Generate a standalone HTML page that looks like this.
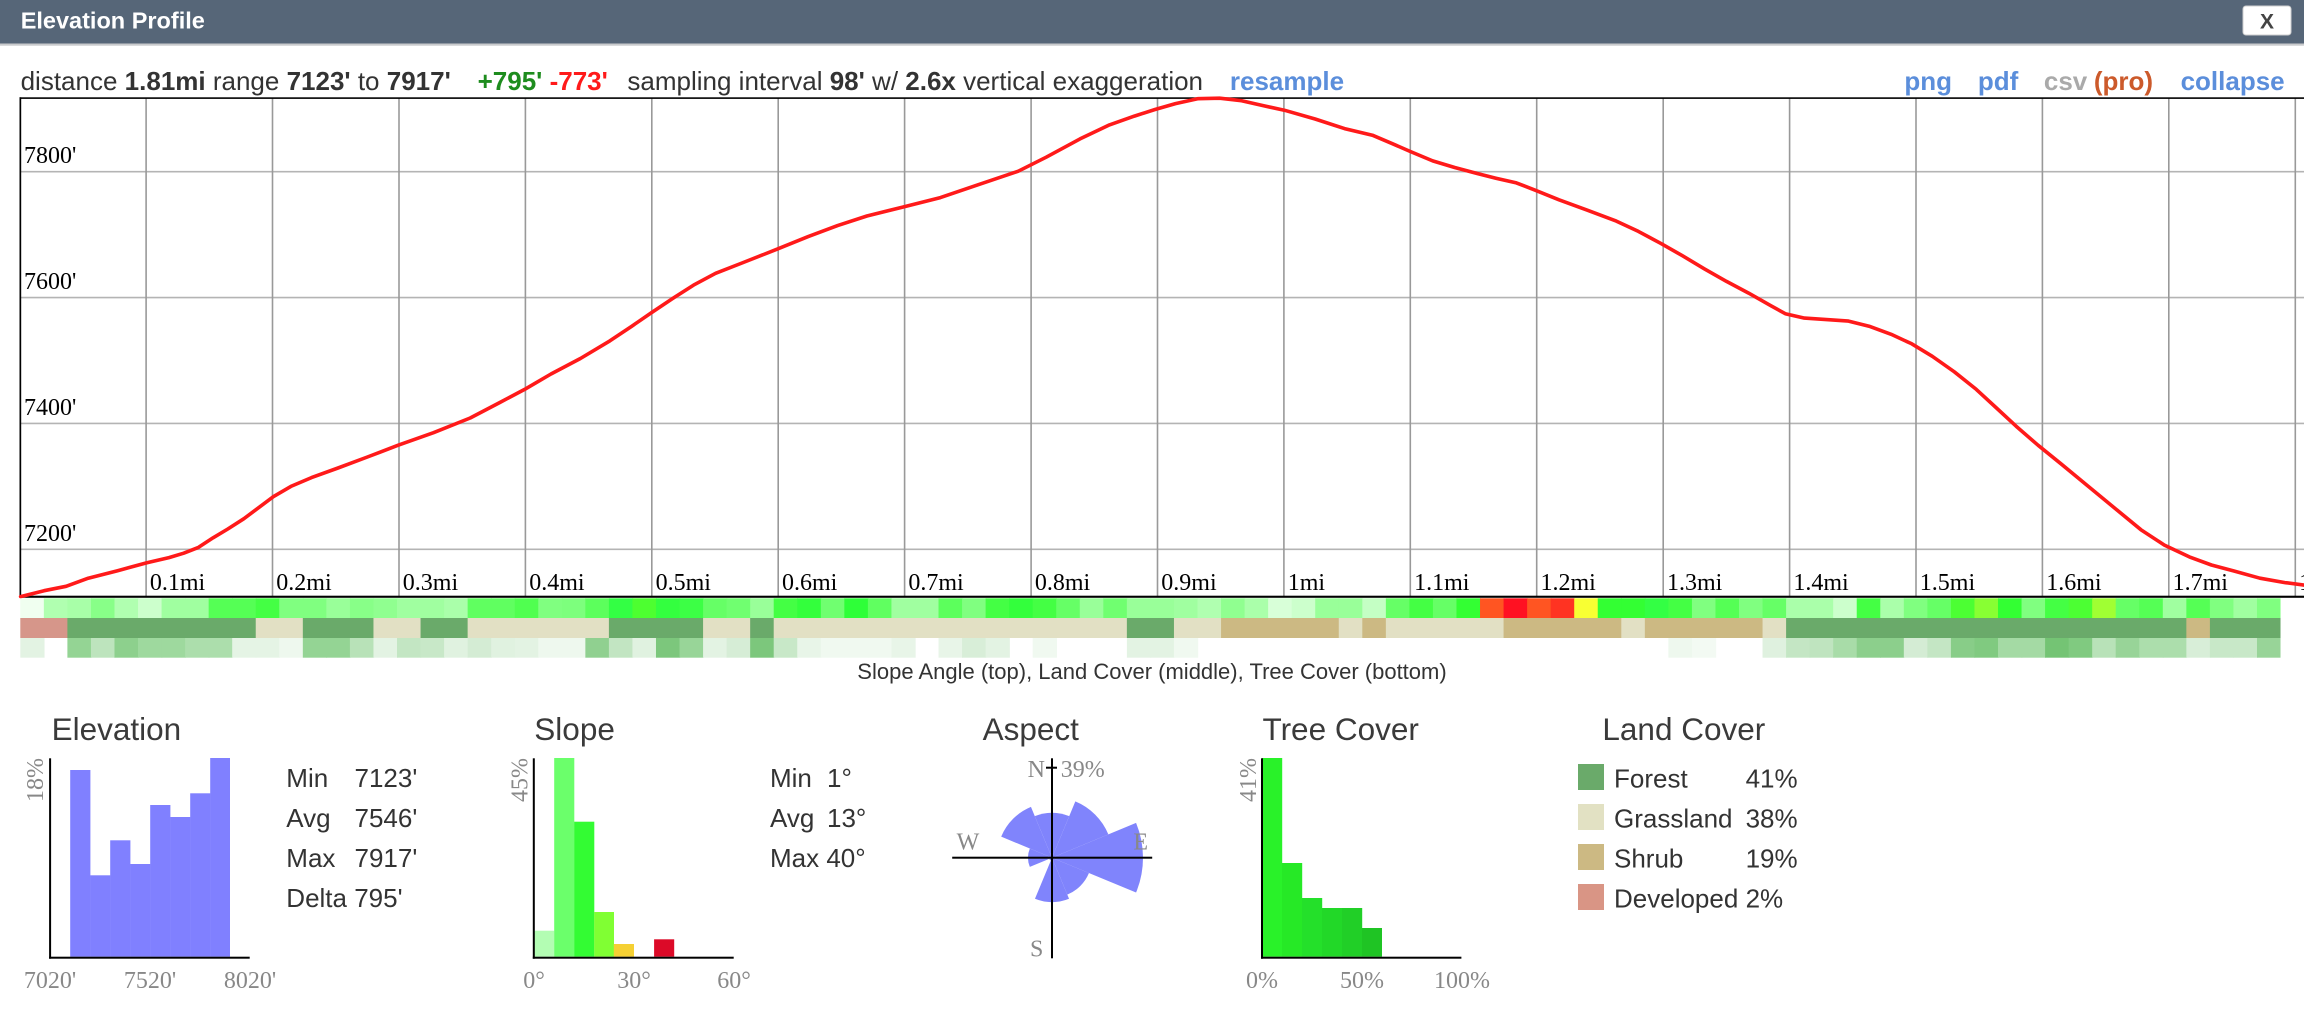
<!DOCTYPE html>
<html><head><meta charset="utf-8"><style>
html,body{margin:0;padding:0;background:#fff;width:2304px;height:1012px;overflow:hidden}
svg{display:block}
.s{font-family:"Liberation Sans",Arial,Helvetica,sans-serif}
.r{font-family:"Liberation Serif","Times New Roman",serif}
</style></head><body>
<svg width="2304" height="1012" viewBox="0 0 2304 1012" xmlns="http://www.w3.org/2000/svg">
<rect width="2304" height="1012" fill="#fff"/>
<!-- header -->
<rect x="0" y="0" width="2304" height="43.5" fill="#566678"/>
<rect x="0" y="43.5" width="2304" height="2.2" fill="#c9cbcd"/>
<text class="s" x="20.7" y="28.5" font-size="23.5" font-weight="bold" fill="#fff">Elevation Profile</text>
<rect x="2243" y="6" width="48" height="29" rx="3" fill="#fff" stroke="#cfcfcf" stroke-width="1"/>
<text class="s" x="2267" y="28.5" font-size="21" font-weight="bold" fill="#444" text-anchor="middle">X</text>

<!-- info line -->
<text class="s" x="20.6" y="90" font-size="26" fill="#333">distance <tspan font-weight="bold">1.81mi</tspan> range <tspan font-weight="bold">7123'</tspan> to <tspan font-weight="bold">7917'</tspan></text>
<text class="s" x="477.6" y="90" font-size="26" font-weight="bold"><tspan fill="#1e8c1e">+795'</tspan> <tspan fill="#ff1a1a">-773'</tspan></text>
<text class="s" x="627.4" y="90" font-size="26" fill="#333">sampling interval <tspan font-weight="bold">98'</tspan> w/ <tspan font-weight="bold">2.6x</tspan> vertical exaggeration</text>
<text class="s" x="1229.9" y="90" font-size="26" font-weight="bold" fill="#5b8edb">resample</text>
<text class="s" x="1904.4" y="90" font-size="26" font-weight="bold" fill="#5b8edb">png</text>
<text class="s" x="1977.9" y="90" font-size="26" font-weight="bold" fill="#5b8edb">pdf</text>
<text class="s" x="2043.9" y="90" font-size="26" font-weight="bold" fill="#aaaaaa">csv</text>
<text class="s" x="2093.9" y="90" font-size="26" font-weight="bold" fill="#cc5a2b">(pro)</text>
<text class="s" x="2180.6" y="90" font-size="26" font-weight="bold" fill="#5b8edb">collapse</text>

<!-- chart grid -->
<g stroke="#b4b4b4" stroke-width="1.6">
<line x1="20" y1="171.7" x2="2304" y2="171.7"/>
<line x1="20" y1="297.6" x2="2304" y2="297.6"/>
<line x1="20" y1="423.4" x2="2304" y2="423.4"/>
<line x1="20" y1="549.3" x2="2304" y2="549.3"/>
</g>
<g stroke="#999" stroke-width="1.6">
<line x1="146.1" y1="98" x2="146.1" y2="597"/>
<line x1="272.5" y1="98" x2="272.5" y2="597"/>
<line x1="399" y1="98" x2="399" y2="597"/>
<line x1="525.4" y1="98" x2="525.4" y2="597"/>
<line x1="651.8" y1="98" x2="651.8" y2="597"/>
<line x1="778.2" y1="98" x2="778.2" y2="597"/>
<line x1="904.6" y1="98" x2="904.6" y2="597"/>
<line x1="1031.1" y1="98" x2="1031.1" y2="597"/>
<line x1="1157.5" y1="98" x2="1157.5" y2="597"/>
<line x1="1283.9" y1="98" x2="1283.9" y2="597"/>
<line x1="1410.3" y1="98" x2="1410.3" y2="597"/>
<line x1="1536.7" y1="98" x2="1536.7" y2="597"/>
<line x1="1663.2" y1="98" x2="1663.2" y2="597"/>
<line x1="1789.6" y1="98" x2="1789.6" y2="597"/>
<line x1="1916" y1="98" x2="1916" y2="597"/>
<line x1="2042.4" y1="98" x2="2042.4" y2="597"/>
<line x1="2168.8" y1="98" x2="2168.8" y2="597"/>
<line x1="2295.3" y1="98" x2="2295.3" y2="597"/>
</g>
<!-- y labels -->
<g class="r" font-size="24" fill="#000">
<text x="24" y="163">7800'</text>
<text x="24" y="289">7600'</text>
<text x="24" y="415">7400'</text>
<text x="24" y="541">7200'</text>
</g>
<!-- x labels -->
<g class="r" font-size="24" fill="#000">
<text x="149.9" y="590">0.1mi</text>
<text x="276.3" y="590">0.2mi</text>
<text x="402.8" y="590">0.3mi</text>
<text x="529.2" y="590">0.4mi</text>
<text x="655.6" y="590">0.5mi</text>
<text x="782" y="590">0.6mi</text>
<text x="908.4" y="590">0.7mi</text>
<text x="1034.9" y="590">0.8mi</text>
<text x="1161.3" y="590">0.9mi</text>
<text x="1287.7" y="590">1mi</text>
<text x="1414.1" y="590">1.1mi</text>
<text x="1540.5" y="590">1.2mi</text>
<text x="1667" y="590">1.3mi</text>
<text x="1793.4" y="590">1.4mi</text>
<text x="1919.8" y="590">1.5mi</text>
<text x="2046.2" y="590">1.6mi</text>
<text x="2172.6" y="590">1.7mi</text>
<text x="2299.1" y="590">1.8mi</text>
</g>
<!-- borders -->
<rect x="19.5" y="97.3" width="2290" height="1.6" fill="#000"/>
<rect x="19.5" y="97.3" width="1.7" height="500" fill="#000"/>
<rect x="19.5" y="595.7" width="2290" height="2.1" fill="#000"/>

<!-- curve -->
<polyline fill="none" stroke="#ff1a1a" stroke-width="3.6" stroke-linejoin="round" stroke-linecap="round" points="20.6,596.6 44.1,590.7 66.1,586.3 88.2,578.2 117.6,570.7 146.9,562.8 169,557.6 183.7,553.2 198.4,547.4 213.1,537.8 227.8,529 243.9,518.7 258.6,507.7 273.3,496.7 290.9,486.4 311.5,477.6 338,468 367.4,457 398.2,445.2 433.5,432.7 470.2,418 499.6,402.6 524.6,389.4 551,374 580.4,358.5 609.8,340.9 631.8,326.2 651,313 673,298.3 693.6,285.1 715.6,273.3 742,263 777.3,249.1 808.2,236.6 837.6,225.6 866.9,216 902.2,207.2 940.4,197.6 977.2,185.1 1018.3,171.2 1046.2,157.2 1080,138.9 1109.4,124.9 1134.4,116.1 1155,109.5 1175.5,103.6 1197.6,98.7 1219.6,98.2 1241.6,100.7 1263.7,105.8 1284.3,110.2 1315.1,119 1344.5,128.6 1372.4,135.2 1391.5,143.3 1410.6,151.6 1432.7,160.9 1454.7,167.5 1476.7,173.4 1495.9,178.2 1516.4,182.9 1535.5,190.3 1559,199.8 1587,210.1 1616.3,221.1 1638.4,231.4 1660.4,243.2 1682.4,255.7 1704.5,268.9 1726.5,281.4 1748.6,293.1 1770.6,305.6 1785.3,313.7 1804.4,318.1 1826.5,319.6 1848.5,321.1 1869.1,326.2 1891.1,334.3 1911.7,343.8 1932.3,356.3 1954.3,371.8 1976.3,389.4 1995.4,407 2016,426.1 2038,445.2 2061.6,464.3 2086.5,484.9 2115.9,509.1 2140.9,529.7 2164.4,545.1 2189.4,556.9 2211.4,565 2233.5,570.9 2259.9,578.2 2284.9,582.6 2304,585.1"/>

<!-- strips -->
<g transform="translate(20.3 0) scale(23.544 1)">
<!-- slope row -->
<g>
<rect x="0" y="598.3" width="1.03" height="19.7" fill="#f0fff0"/>
<rect x="1" y="598.3" width="1.03" height="19.7" fill="#b0ffb0"/>
<rect x="2" y="598.3" width="1.03" height="19.7" fill="#a8ffa8"/>
<rect x="3" y="598.3" width="1.03" height="19.7" fill="#88ff88"/>
<rect x="4" y="598.3" width="1.03" height="19.7" fill="#b0ffb0"/>
<rect x="5" y="598.3" width="1.03" height="19.7" fill="#ccffcc"/>
<rect x="6" y="598.3" width="1.03" height="19.7" fill="#a0ffa0"/>
<rect x="7" y="598.3" width="1.03" height="19.7" fill="#a0ffa0"/>
<rect x="8" y="598.3" width="1.03" height="19.7" fill="#55ff55"/>
<rect x="9" y="598.3" width="1.03" height="19.7" fill="#55ff55"/>
<rect x="10" y="598.3" width="1.03" height="19.7" fill="#44ff44"/>
<rect x="11" y="598.3" width="1.03" height="19.7" fill="#80ff80"/>
<rect x="12" y="598.3" width="1.03" height="19.7" fill="#80ff80"/>
<rect x="13" y="598.3" width="1.03" height="19.7" fill="#99ff99"/>
<rect x="14" y="598.3" width="1.03" height="19.7" fill="#88ff88"/>
<rect x="15" y="598.3" width="1.03" height="19.7" fill="#90ff90"/>
<rect x="16" y="598.3" width="1.03" height="19.7" fill="#a0ffa0"/>
<rect x="17" y="598.3" width="1.03" height="19.7" fill="#a0ffa0"/>
<rect x="18" y="598.3" width="1.03" height="19.7" fill="#aaffaa"/>
<rect x="19" y="598.3" width="1.03" height="19.7" fill="#60ff60"/>
<rect x="20" y="598.3" width="1.03" height="19.7" fill="#60ff60"/>
<rect x="21" y="598.3" width="1.03" height="19.7" fill="#50ff50"/>
<rect x="22" y="598.3" width="1.03" height="19.7" fill="#80ff80"/>
<rect x="23" y="598.3" width="1.03" height="19.7" fill="#7dff7d"/>
<rect x="24" y="598.3" width="1.03" height="19.7" fill="#5cff5c"/>
<rect x="25" y="598.3" width="1.03" height="19.7" fill="#33ff44"/>
<rect x="26" y="598.3" width="1.03" height="19.7" fill="#4dff30"/>
<rect x="27" y="598.3" width="1.03" height="19.7" fill="#33ff3f"/>
<rect x="28" y="598.3" width="1.03" height="19.7" fill="#3cff45"/>
<rect x="29" y="598.3" width="1.03" height="19.7" fill="#66ff66"/>
<rect x="30" y="598.3" width="1.03" height="19.7" fill="#70ff70"/>
<rect x="31" y="598.3" width="1.03" height="19.7" fill="#99ff99"/>
<rect x="32" y="598.3" width="1.03" height="19.7" fill="#44ff44"/>
<rect x="33" y="598.3" width="1.03" height="19.7" fill="#33ff3c"/>
<rect x="34" y="598.3" width="1.03" height="19.7" fill="#70ff70"/>
<rect x="35" y="598.3" width="1.03" height="19.7" fill="#2eff38"/>
<rect x="36" y="598.3" width="1.03" height="19.7" fill="#60ff60"/>
<rect x="37" y="598.3" width="1.03" height="19.7" fill="#a0ffa0"/>
<rect x="38" y="598.3" width="1.03" height="19.7" fill="#a0ffa0"/>
<rect x="39" y="598.3" width="1.03" height="19.7" fill="#5cff5c"/>
<rect x="40" y="598.3" width="1.03" height="19.7" fill="#80ff80"/>
<rect x="41" y="598.3" width="1.03" height="19.7" fill="#44ff44"/>
<rect x="42" y="598.3" width="1.03" height="19.7" fill="#33ff3c"/>
<rect x="43" y="598.3" width="1.03" height="19.7" fill="#44ff44"/>
<rect x="44" y="598.3" width="1.03" height="19.7" fill="#66ff66"/>
<rect x="45" y="598.3" width="1.03" height="19.7" fill="#99ff99"/>
<rect x="46" y="598.3" width="1.03" height="19.7" fill="#70ff70"/>
<rect x="47" y="598.3" width="1.03" height="19.7" fill="#99ff99"/>
<rect x="48" y="598.3" width="1.03" height="19.7" fill="#99ff99"/>
<rect x="49" y="598.3" width="1.03" height="19.7" fill="#a0ffa0"/>
<rect x="50" y="598.3" width="1.03" height="19.7" fill="#b0ffb0"/>
<rect x="51" y="598.3" width="1.03" height="19.7" fill="#90ff90"/>
<rect x="52" y="598.3" width="1.03" height="19.7" fill="#aaffaa"/>
<rect x="53" y="598.3" width="1.03" height="19.7" fill="#d8ffd8"/>
<rect x="54" y="598.3" width="1.03" height="19.7" fill="#ccffcc"/>
<rect x="55" y="598.3" width="1.03" height="19.7" fill="#99ff99"/>
<rect x="56" y="598.3" width="1.03" height="19.7" fill="#99ff99"/>
<rect x="57" y="598.3" width="1.03" height="19.7" fill="#c4ffc4"/>
<rect x="58" y="598.3" width="1.03" height="19.7" fill="#66ff66"/>
<rect x="59" y="598.3" width="1.03" height="19.7" fill="#44ff44"/>
<rect x="60" y="598.3" width="1.03" height="19.7" fill="#66ff66"/>
<rect x="61" y="598.3" width="1.03" height="19.7" fill="#33ff33"/>
<rect x="62" y="598.3" width="1.03" height="19.7" fill="#ff5522"/>
<rect x="63" y="598.3" width="1.03" height="19.7" fill="#ff1122"/>
<rect x="64" y="598.3" width="1.03" height="19.7" fill="#ff5522"/>
<rect x="65" y="598.3" width="1.03" height="19.7" fill="#ff3322"/>
<rect x="66" y="598.3" width="1.03" height="19.7" fill="#f8ff33"/>
<rect x="67" y="598.3" width="1.03" height="19.7" fill="#33ff33"/>
<rect x="68" y="598.3" width="1.03" height="19.7" fill="#33ff33"/>
<rect x="69" y="598.3" width="1.03" height="19.7" fill="#33ff44"/>
<rect x="70" y="598.3" width="1.03" height="19.7" fill="#44ff44"/>
<rect x="71" y="598.3" width="1.03" height="19.7" fill="#80ff80"/>
<rect x="72" y="598.3" width="1.03" height="19.7" fill="#55ff55"/>
<rect x="73" y="598.3" width="1.03" height="19.7" fill="#80ff80"/>
<rect x="74" y="598.3" width="1.03" height="19.7" fill="#66ff66"/>
<rect x="75" y="598.3" width="1.03" height="19.7" fill="#aaffaa"/>
<rect x="76" y="598.3" width="1.03" height="19.7" fill="#aaffaa"/>
<rect x="77" y="598.3" width="1.03" height="19.7" fill="#ccffcc"/>
<rect x="78" y="598.3" width="1.03" height="19.7" fill="#44ff44"/>
<rect x="79" y="598.3" width="1.03" height="19.7" fill="#aaffaa"/>
<rect x="80" y="598.3" width="1.03" height="19.7" fill="#80ff80"/>
<rect x="81" y="598.3" width="1.03" height="19.7" fill="#66ff66"/>
<rect x="82" y="598.3" width="1.03" height="19.7" fill="#4cff33"/>
<rect x="83" y="598.3" width="1.03" height="19.7" fill="#88ff33"/>
<rect x="84" y="598.3" width="1.03" height="19.7" fill="#33ff33"/>
<rect x="85" y="598.3" width="1.03" height="19.7" fill="#80ff80"/>
<rect x="86" y="598.3" width="1.03" height="19.7" fill="#44ff44"/>
<rect x="87" y="598.3" width="1.03" height="19.7" fill="#4cff33"/>
<rect x="88" y="598.3" width="1.03" height="19.7" fill="#a0ff33"/>
<rect x="89" y="598.3" width="1.03" height="19.7" fill="#66ff66"/>
<rect x="90" y="598.3" width="1.03" height="19.7" fill="#55ff55"/>
<rect x="91" y="598.3" width="1.03" height="19.7" fill="#a0ffa0"/>
<rect x="92" y="598.3" width="1.03" height="19.7" fill="#55ff55"/>
<rect x="93" y="598.3" width="1.03" height="19.7" fill="#80ff80"/>
<rect x="94" y="598.3" width="1.03" height="19.7" fill="#a0ffa0"/>
<rect x="95" y="598.3" width="1" height="19.7" fill="#80ff80"/>
</g>
<!-- land cover row -->
<g>
<rect x="0" y="618" width="2.02" height="20" fill="#d6968a"/>
<rect x="2" y="618" width="8.02" height="20" fill="#6aaa6a"/>
<rect x="10" y="618" width="2.02" height="20" fill="#e2e0c4"/>
<rect x="12" y="618" width="3.02" height="20" fill="#6aaa6a"/>
<rect x="15" y="618" width="2.02" height="20" fill="#e2e0c4"/>
<rect x="17" y="618" width="2.02" height="20" fill="#6aaa6a"/>
<rect x="19" y="618" width="6.02" height="20" fill="#e2e0c4"/>
<rect x="25" y="618" width="4.02" height="20" fill="#6aaa6a"/>
<rect x="29" y="618" width="2.02" height="20" fill="#e2e0c4"/>
<rect x="31" y="618" width="1.02" height="20" fill="#6aaa6a"/>
<rect x="32" y="618" width="15.02" height="20" fill="#e2e0c4"/>
<rect x="47" y="618" width="2.02" height="20" fill="#6aaa6a"/>
<rect x="49" y="618" width="2.02" height="20" fill="#e2e0c4"/>
<rect x="51" y="618" width="5.02" height="20" fill="#ccb983"/>
<rect x="56" y="618" width="1.02" height="20" fill="#e2e0c4"/>
<rect x="57" y="618" width="1.02" height="20" fill="#ccb983"/>
<rect x="58" y="618" width="5.02" height="20" fill="#e2e0c4"/>
<rect x="63" y="618" width="5.02" height="20" fill="#ccb983"/>
<rect x="68" y="618" width="1.02" height="20" fill="#e2e0c4"/>
<rect x="69" y="618" width="5.02" height="20" fill="#ccb983"/>
<rect x="74" y="618" width="1.02" height="20" fill="#e2e0c4"/>
<rect x="75" y="618" width="17.02" height="20" fill="#6aaa6a"/>
<rect x="92" y="618" width="1.02" height="20" fill="#ccb983"/>
<rect x="93" y="618" width="3" height="20" fill="#6aaa6a"/>
</g>
<!-- tree cover row -->
<g>
<rect x="0" y="638" width="1.03" height="19.7" fill="#e3f3e3"/>
<rect x="2" y="638" width="1.03" height="19.7" fill="#94d494"/>
<rect x="3" y="638" width="1.03" height="19.7" fill="#bde4bd"/>
<rect x="4" y="638" width="1.03" height="19.7" fill="#8dd08d"/>
<rect x="5" y="638" width="1.03" height="19.7" fill="#9ed99e"/>
<rect x="6" y="638" width="1.03" height="19.7" fill="#9ed99e"/>
<rect x="7" y="638" width="1.03" height="19.7" fill="#acdeac"/>
<rect x="8" y="638" width="1.03" height="19.7" fill="#acdeac"/>
<rect x="9" y="638" width="1.03" height="19.7" fill="#e5f4e5"/>
<rect x="10" y="638" width="1.03" height="19.7" fill="#e5f4e5"/>
<rect x="11" y="638" width="1.03" height="19.7" fill="#eef8ee"/>
<rect x="12" y="638" width="1.03" height="19.7" fill="#94d494"/>
<rect x="13" y="638" width="1.03" height="19.7" fill="#94d494"/>
<rect x="14" y="638" width="1.03" height="19.7" fill="#b8e2b8"/>
<rect x="15" y="638" width="1.03" height="19.7" fill="#e3f3e3"/>
<rect x="16" y="638" width="1.03" height="19.7" fill="#c3e6c3"/>
<rect x="17" y="638" width="1.03" height="19.7" fill="#c8e8c8"/>
<rect x="18" y="638" width="1.03" height="19.7" fill="#e0f2e0"/>
<rect x="19" y="638" width="1.03" height="19.7" fill="#d4ecd4"/>
<rect x="20" y="638" width="1.03" height="19.7" fill="#e0f2e0"/>
<rect x="21" y="638" width="1.03" height="19.7" fill="#e3f3e3"/>
<rect x="22" y="638" width="1.03" height="19.7" fill="#eef8ee"/>
<rect x="23" y="638" width="1.03" height="19.7" fill="#eef8ee"/>
<rect x="24" y="638" width="1.03" height="19.7" fill="#90d090"/>
<rect x="25" y="638" width="1.03" height="19.7" fill="#c2e5c2"/>
<rect x="26" y="638" width="1.03" height="19.7" fill="#e0f2e0"/>
<rect x="27" y="638" width="1.03" height="19.7" fill="#7cc77c"/>
<rect x="28" y="638" width="1.03" height="19.7" fill="#98d598"/>
<rect x="29" y="638" width="1.03" height="19.7" fill="#e3f3e3"/>
<rect x="30" y="638" width="1.03" height="19.7" fill="#d6edd6"/>
<rect x="31" y="638" width="1.03" height="19.7" fill="#7cc77c"/>
<rect x="32" y="638" width="1.03" height="19.7" fill="#c8e8c8"/>
<rect x="33" y="638" width="1.03" height="19.7" fill="#e8f5e8"/>
<rect x="34" y="638" width="1.03" height="19.7" fill="#f0f9f0"/>
<rect x="35" y="638" width="1.03" height="19.7" fill="#f0f9f0"/>
<rect x="36" y="638" width="1.03" height="19.7" fill="#f0f9f0"/>
<rect x="37" y="638" width="1.03" height="19.7" fill="#e8f5e8"/>
<rect x="39" y="638" width="1.03" height="19.7" fill="#e8f5e8"/>
<rect x="40" y="638" width="1.03" height="19.7" fill="#d8eed8"/>
<rect x="41" y="638" width="1.03" height="19.7" fill="#e3f3e3"/>
<rect x="43" y="638" width="1.03" height="19.7" fill="#f0f9f0"/>
<rect x="47" y="638" width="1.03" height="19.7" fill="#e3f3e3"/>
<rect x="48" y="638" width="1.03" height="19.7" fill="#e3f3e3"/>
<rect x="49" y="638" width="1.03" height="19.7" fill="#f0f9f0"/>
<rect x="70" y="638" width="1.03" height="19.7" fill="#eef8ee"/>
<rect x="71" y="638" width="1.03" height="19.7" fill="#f3faf3"/>
<rect x="74" y="638" width="1.03" height="19.7" fill="#dff1df"/>
<rect x="75" y="638" width="1.03" height="19.7" fill="#c4e6c4"/>
<rect x="76" y="638" width="1.03" height="19.7" fill="#bfe4bf"/>
<rect x="77" y="638" width="1.03" height="19.7" fill="#a8dca8"/>
<rect x="78" y="638" width="1.03" height="19.7" fill="#8ccf8c"/>
<rect x="79" y="638" width="1.03" height="19.7" fill="#8ccf8c"/>
<rect x="80" y="638" width="1.03" height="19.7" fill="#d4ecd4"/>
<rect x="81" y="638" width="1.03" height="19.7" fill="#c4e6c4"/>
<rect x="82" y="638" width="1.03" height="19.7" fill="#88cd88"/>
<rect x="83" y="638" width="1.03" height="19.7" fill="#80ca80"/>
<rect x="84" y="638" width="1.03" height="19.7" fill="#a4daa4"/>
<rect x="85" y="638" width="1.03" height="19.7" fill="#a4daa4"/>
<rect x="86" y="638" width="1.03" height="19.7" fill="#74c474"/>
<rect x="87" y="638" width="1.03" height="19.7" fill="#80ca80"/>
<rect x="88" y="638" width="1.03" height="19.7" fill="#b8e2b8"/>
<rect x="89" y="638" width="1.03" height="19.7" fill="#98d498"/>
<rect x="90" y="638" width="1.03" height="19.7" fill="#acdeac"/>
<rect x="91" y="638" width="1.03" height="19.7" fill="#acdeac"/>
<rect x="92" y="638" width="1.03" height="19.7" fill="#d8eed8"/>
<rect x="93" y="638" width="1.03" height="19.7" fill="#c8e8c8"/>
<rect x="94" y="638" width="1.03" height="19.7" fill="#c8e8c8"/>
<rect x="95" y="638" width="1" height="19.7" fill="#98d498"/>
</g>
</g>

<text class="s" x="1152" y="679" font-size="22" fill="#333" text-anchor="middle">Slope Angle (top), Land Cover (middle), Tree Cover (bottom)</text>

<!-- bottom panel titles -->
<g class="s" font-size="31.5" fill="#3a3a3a">
<text x="51.6" y="740">Elevation</text>
<text x="534.3" y="740">Slope</text>
<text x="982.6" y="740">Aspect</text>
<text x="1262.5" y="740">Tree Cover</text>
<text x="1602.4" y="740">Land Cover</text>
</g>

<!-- Elevation histogram -->
<g fill="#8080ff">
<rect x="70.2" y="770" width="20.2" height="186.7"/>
<rect x="90.2" y="875.3" width="20.2" height="81.4"/>
<rect x="110.2" y="840.3" width="20.2" height="116.4"/>
<rect x="130.2" y="864" width="20.2" height="92.7"/>
<rect x="150.2" y="805" width="20.2" height="151.7"/>
<rect x="170.2" y="817" width="20.2" height="139.7"/>
<rect x="190.2" y="793.3" width="20.2" height="163.4"/>
<rect x="210.2" y="758" width="19.8" height="198.7"/>
</g>
<rect x="49.1" y="758.3" width="2" height="200.4" fill="#000"/>
<rect x="49.1" y="956.7" width="200.6" height="2" fill="#000"/>
<g class="r" font-size="24" fill="#888">
<text transform="translate(43.2 758) rotate(-90)" text-anchor="end">18%</text>
<text x="50" y="988" text-anchor="middle">7020'</text>
<text x="150" y="988" text-anchor="middle">7520'</text>
<text x="250" y="988" text-anchor="middle">8020'</text>
</g>
<g class="s" font-size="26" fill="#333">
<text x="286.3" y="787">Min</text><text x="354.5" y="787">7123'</text>
<text x="286.3" y="827">Avg</text><text x="354.5" y="827">7546'</text>
<text x="286.3" y="867">Max</text><text x="354.5" y="867">7917'</text>
<text x="286.3" y="907">Delta 795'</text>
</g>

<!-- Slope histogram -->
<rect x="534.3" y="930.7" width="20" height="26" fill="#b3fdb3"/>
<rect x="554.2" y="758" width="20.1" height="198.7" fill="#6bff6b"/>
<rect x="574.2" y="821.7" width="20.1" height="135" fill="#33fc33"/>
<rect x="594.2" y="912" width="19.8" height="44.7" fill="#80ff33"/>
<rect x="613.8" y="944" width="20.2" height="12.7" fill="#f5d033"/>
<rect x="654.1" y="939.3" width="20.1" height="17.4" fill="#dc0a28"/>
<rect x="532.8" y="758.3" width="2" height="200.4" fill="#000"/>
<rect x="532.8" y="956.7" width="200.9" height="2" fill="#000"/>
<g class="r" font-size="24" fill="#888">
<text transform="translate(527.5 758) rotate(-90)" text-anchor="end">45%</text>
<text x="534" y="988" text-anchor="middle">0°</text>
<text x="634" y="988" text-anchor="middle">30°</text>
<text x="734" y="988" text-anchor="middle">60°</text>
</g>
<g class="s" font-size="26" fill="#333">
<text x="770" y="787">Min</text><text x="827" y="787">1°</text>
<text x="770" y="827">Avg</text><text x="827" y="827">13°</text>
<text x="770" y="867">Max 40°</text>
</g>

<!-- Aspect rose -->
<g fill="#8084fc">
<path d="M1052 857.7 L1034.78 816.12 A45 45 0 0 1 1069.22 816.12 Z"/>
<path d="M1052 857.7 L1075.34 801.34 A61 61 0 0 1 1108.36 834.36 Z"/>
<path d="M1052 857.7 L1136.07 822.88 A91 91 0 0 1 1136.07 892.52 Z"/>
<path d="M1052 857.7 L1088.96 873.01 A40 40 0 0 1 1067.31 894.66 Z"/>
<path d="M1052 857.7 L1069.03 898.81 A44.5 44.5 0 0 1 1034.97 898.81 Z"/>
<path d="M1052 857.7 L1050.85 860.47 A3 3 0 0 1 1049.23 858.85 Z"/>
<path d="M1052 857.7 L1029.83 866.88 A24 24 0 0 1 1029.83 848.52 Z"/>
<path d="M1052 857.7 L1001.19 836.65 A55 55 0 0 1 1030.95 806.89 Z"/>
</g>
<rect x="1051" y="758.3" width="2" height="200" fill="#000"/>
<rect x="952.2" y="856.7" width="200" height="2" fill="#000"/>
<rect x="1046" y="766.7" width="11" height="2" fill="#000"/>
<g class="r" font-size="24" fill="#888">
<text x="1045" y="777" text-anchor="end">N</text>
<text x="1060.7" y="777">39%</text>
<text x="956.6" y="849.3">W</text>
<text x="1133.4" y="849.3">E</text>
<text x="1030" y="956.7">S</text>
</g>

<!-- Tree cover histogram -->
<rect x="1262" y="758" width="20.2" height="198.7" fill="#29f229"/>
<rect x="1282" y="863" width="20.2" height="93.7" fill="#26e926"/>
<rect x="1302" y="898" width="20.2" height="58.7" fill="#24e02a"/>
<rect x="1322" y="908" width="20.2" height="48.7" fill="#22d828"/>
<rect x="1342" y="908" width="20.2" height="48.7" fill="#21cf27"/>
<rect x="1362" y="928" width="20" height="28.7" fill="#1fc424"/>
<rect x="1261" y="758.3" width="2" height="200.4" fill="#000"/>
<rect x="1261" y="956.7" width="200.4" height="2" fill="#000"/>
<g class="r" font-size="24" fill="#888">
<text transform="translate(1256 758) rotate(-90)" text-anchor="end">41%</text>
<text x="1262" y="988" text-anchor="middle">0%</text>
<text x="1362" y="988" text-anchor="middle">50%</text>
<text x="1462" y="988" text-anchor="middle">100%</text>
</g>

<!-- Land cover legend -->
<rect x="1578" y="764" width="26" height="26" fill="#6aaa6a"/>
<rect x="1578" y="804" width="26" height="26" fill="#e2e1c3"/>
<rect x="1578" y="844" width="26" height="26" fill="#ccb983"/>
<rect x="1578" y="884" width="26" height="26" fill="#d99585"/>
<g class="s" font-size="26" fill="#333">
<text x="1614" y="787.3">Forest</text><text x="1745.6" y="787.3">41%</text>
<text x="1614" y="827.3">Grassland</text><text x="1745.6" y="827.3">38%</text>
<text x="1614" y="867.3">Shrub</text><text x="1745.6" y="867.3">19%</text>
<text x="1614" y="907.3">Developed</text><text x="1745.6" y="907.3">2%</text>
</g>
</svg>
</body></html>
